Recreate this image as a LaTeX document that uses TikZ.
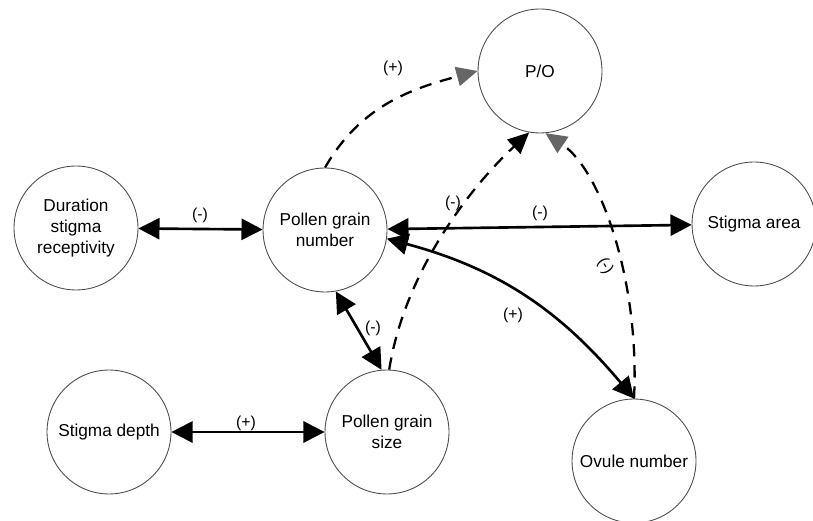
\documentclass[tikz,border=0pt]{standalone}
\usepackage{fontspec}
\setmainfont{Liberation Sans}
\usetikzlibrary{arrows.meta}
\tikzset{
  var/.style={circle, draw=black!70, line width=0.5pt, minimum size=2.48cm, inner sep=0pt, align=center, font=\fontsize{9.8}{12}\selectfont},
  link/.style={line width=1.5pt, {Triangle[length=12pt,width=12pt]}-{Triangle[length=12pt,width=12pt]}},
  effect/.style={line width=1.3pt, dash pattern=on 7pt off 5pt, -{Triangle[length=12pt,width=11pt]}},
  grayeffect/.style={effect, -{Triangle[length=12pt,width=11pt,color=black!60]}},
  sign/.style={font=\fontsize{9}{10}\selectfont}
}
\begin{document}
\begin{tikzpicture}[x=0.02cm,y=0.02cm]
\useasboundingbox (0,0) rectangle (813,520);
\node[var] (dur) at (76,292) {Duration\\stigma\\receptivity};
\node[var] (pgn) at (325,290) {Pollen grain\\number};
\node[var] (po) at (540,449) {P/O};
\node[var] (area) at (754,296) {Stigma area};
\node[var] (depth) at (109,88) {Stigma depth};
\node[var] (pgs) at (387,88) {Pollen grain\\size};
\node[var] (ovule) at (634,59) {Ovule number};

\draw[link] (dur) -- (pgn);
\draw[link] (pgn) -- (area);
\draw[link] (pgn.-80) -- (pgs.95);
\draw[link] (depth) -- (pgs);
\draw[link] (pgn.-8) to[out=-15,in=130] (ovule.north);
\draw[grayeffect] (pgn.north) to[out=60,in=195] (po.west);
\draw[effect] (pgs.88) .. controls +(16,100) and +(-57,-53) .. (po.-100);
\draw[grayeffect] (ovule.north) .. controls +(6,118) and +(55,-37) .. (po.-85);

\node[sign] (s1) at (200,305) {(-)};
\node[sign] (s2) at (540,307) {(-)};
\node[sign] (s3) at (373,192) {(-)};
\node[sign] (s4) at (246,97) {(+)};
\node[sign] (s5) at (513,205) {(+)};
\node[sign] (s6) at (393,452) {(+)};
\node[sign] (s7) at (453,317) {(-)};
\node[sign, rotate=-60] (s8) at (605,254) {(-)};
\end{tikzpicture}
\end{document}
